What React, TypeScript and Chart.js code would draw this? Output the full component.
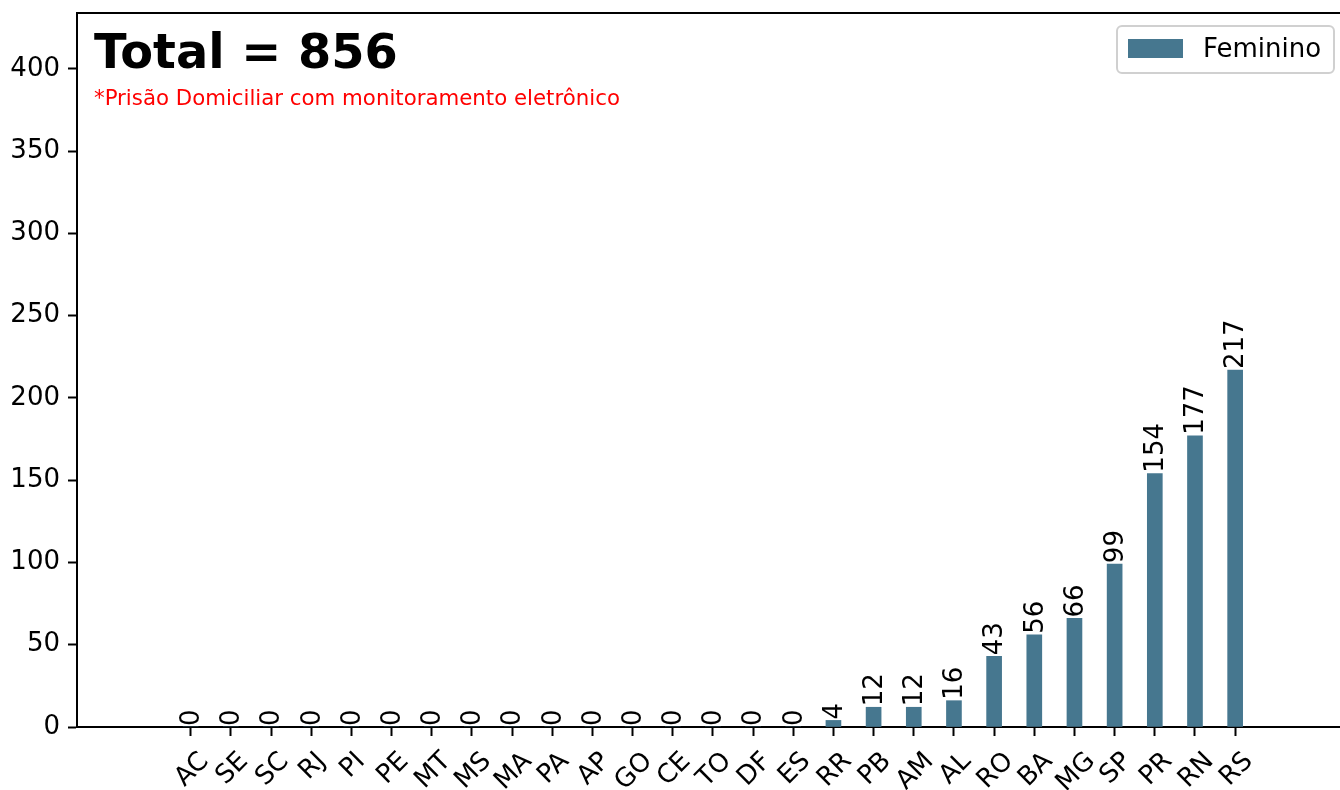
import React, { useEffect, useRef } from "react";
import { Chart, registerables } from "chart.js";

Chart.register(...registerables);

const categories = ["AC", "SE", "SC", "RJ", "PI", "PE", "MT", "MS", "MA", "PA", "AP", "GO", "CE", "TO", "DF", "ES", "RR", "PB", "AM", "AL", "RO", "BA", "MG", "SP", "PR", "RN", "RS"];
const feminino = [0, 0, 0, 0, 0, 0, 0, 0, 0, 0, 0, 0, 0, 0, 0, 0, 4, 12, 12, 16, 43, 56, 66, 99, 154, 177, 217];
const yTicks = [0, 50, 100, 150, 200, 250, 300, 350, 400];
const seriesName = "Feminino";
const titleText = "Total = 856";
const subtitleText = "*Prisão Domiciliar com monitoramento eletrônico";

const FONT = "'DejaVu Sans', sans-serif";
const FS = 26;
const BAR_COLOR = "#46778f";

const overlay = {
  id: "overlay",
  afterDraw(chart: any) {
    const ctx = chart.ctx as CanvasRenderingContext2D;
    const ca = chart.chartArea;
    const xs = chart.scales.x;
    ctx.save();
    // top spine
    ctx.strokeStyle = "#000";
    ctx.lineWidth = 2;
    ctx.beginPath();
    ctx.moveTo(ca.left - 1, ca.top);
    ctx.lineTo(ca.right, ca.top);
    ctx.stroke();

    // value labels
    ctx.font = `${FS}px ${FONT}`;
    ctx.fillStyle = "#000";
    const meta = chart.getDatasetMeta(0);
    meta.data.forEach((bar: any, i: number) => {
      ctx.save();
      ctx.translate(bar.x, bar.y - 1);
      ctx.rotate(-Math.PI / 2);
      ctx.textAlign = "left";
      ctx.textBaseline = "alphabetic";
      ctx.fillText(String(feminino[i]), 0, 0.32 * FS);
      ctx.restore();
    });

    // x tick labels, rotated 45°, centred on tick
    categories.forEach((c, i) => {
      const px = xs.getPixelForValue(i);
      const w = ctx.measureText(c).width;
      const h = 1.164 * FS;
      const H = (w + h) * Math.SQRT1_2;
      const cy = ca.bottom + 9 + 9 + H / 2;
      ctx.save();
      ctx.translate(px, cy);
      ctx.rotate(-Math.PI / 4);
      ctx.textAlign = "center";
      ctx.textBaseline = "alphabetic";
      ctx.fillText(c, 0, 0.346 * FS);
      ctx.restore();
    });

    // title + subtitle
    ctx.textAlign = "left";
    ctx.textBaseline = "alphabetic";
    ctx.font = `bold 47.8px ${FONT}`;
    ctx.fillStyle = "#000";
    ctx.fillText(titleText, 94, 68);
    ctx.font = `21.3px ${FONT}`;
    ctx.fillStyle = "#ff0000";
    ctx.fillText(subtitleText, 94, 105);

    // legend
    const lx = 1117, ly = 26, lw = 217, lh = 47;
    ctx.beginPath();
    (ctx as any).roundRect(lx, ly, lw, lh, 5);
    ctx.fillStyle = "rgba(255,255,255,0.8)";
    ctx.fill();
    ctx.strokeStyle = "#d0d0d0";
    ctx.lineWidth = 2;
    ctx.stroke();
    ctx.fillStyle = BAR_COLOR;
    ctx.fillRect(1128, 39, 55, 19);
    ctx.fillStyle = "#000";
    ctx.font = `${FS}px ${FONT}`;
    ctx.fillText(seriesName, 1203, 57);
    ctx.restore();
  },
};

export default function App() {
  const ref = useRef<HTMLCanvasElement | null>(null);
  useEffect(() => {
    if (!ref.current) return;
    Chart.defaults.font.family = FONT;
    const chart = new Chart(ref.current, {
      type: "bar",
      data: {
        datasets: [
          {
            label: seriesName,
            data: categories.map((_, i) => ({ x: i, y: feminino[i] })) as any,
            backgroundColor: BAR_COLOR,
            barThickness: 15,
          },
        ],
      },
      options: {
        responsive: false,
        animation: false,
        events: [],
        layout: { padding: { top: 13, left: 0, right: 0, bottom: 0 } },
        plugins: { legend: { display: false }, tooltip: { enabled: false } },
        scales: {
          x: {
            type: "linear",
            min: -2.83,
            max: 28.61,
            offset: false,
            afterBuildTicks: (s: any) => {
              s.ticks = categories.map((_, i) => ({ value: i }));
            },
            ticks: { display: false },
            grid: {
              offset: false,
              drawOnChartArea: false,
              drawTicks: true,
              tickLength: 9,
              tickWidth: 2,
              tickColor: "#000",
            },
            border: { display: true, color: "#000", width: 2 },
            afterFit: (s: any) => {
              s.height = 63;
              s.paddingLeft = 0;
              s.paddingRight = 0;
            },
          } as any,
          y: {
            min: 0,
            max: Math.max(...feminino) * 2,
            afterBuildTicks: (s: any) => {
              s.ticks = yTicks.map((v) => ({ value: v }));
            },
            ticks: {
              font: { family: FONT, size: FS },
              color: "#000",
              padding: 8,
            },
            grid: {
              drawOnChartArea: false,
              drawTicks: true,
              tickLength: 9,
              tickWidth: 2,
              tickColor: "#000",
            },
            border: { display: true, color: "#000", width: 2 },
            afterFit: (s: any) => {
              s.width = 77;
              s.paddingTop = 0;
              s.paddingBottom = 0;
            },
          } as any,
        },
      },
      plugins: [overlay],
    });
    return () => chart.destroy();
  }, []);

  return (
    <div style={{ position: "absolute", left: 0, top: 0, width: 1340, height: 790, background: "#fff" }}>
      <canvas ref={ref} width={1340} height={790} style={{ display: "block" }} />
    </div>
  );
}
